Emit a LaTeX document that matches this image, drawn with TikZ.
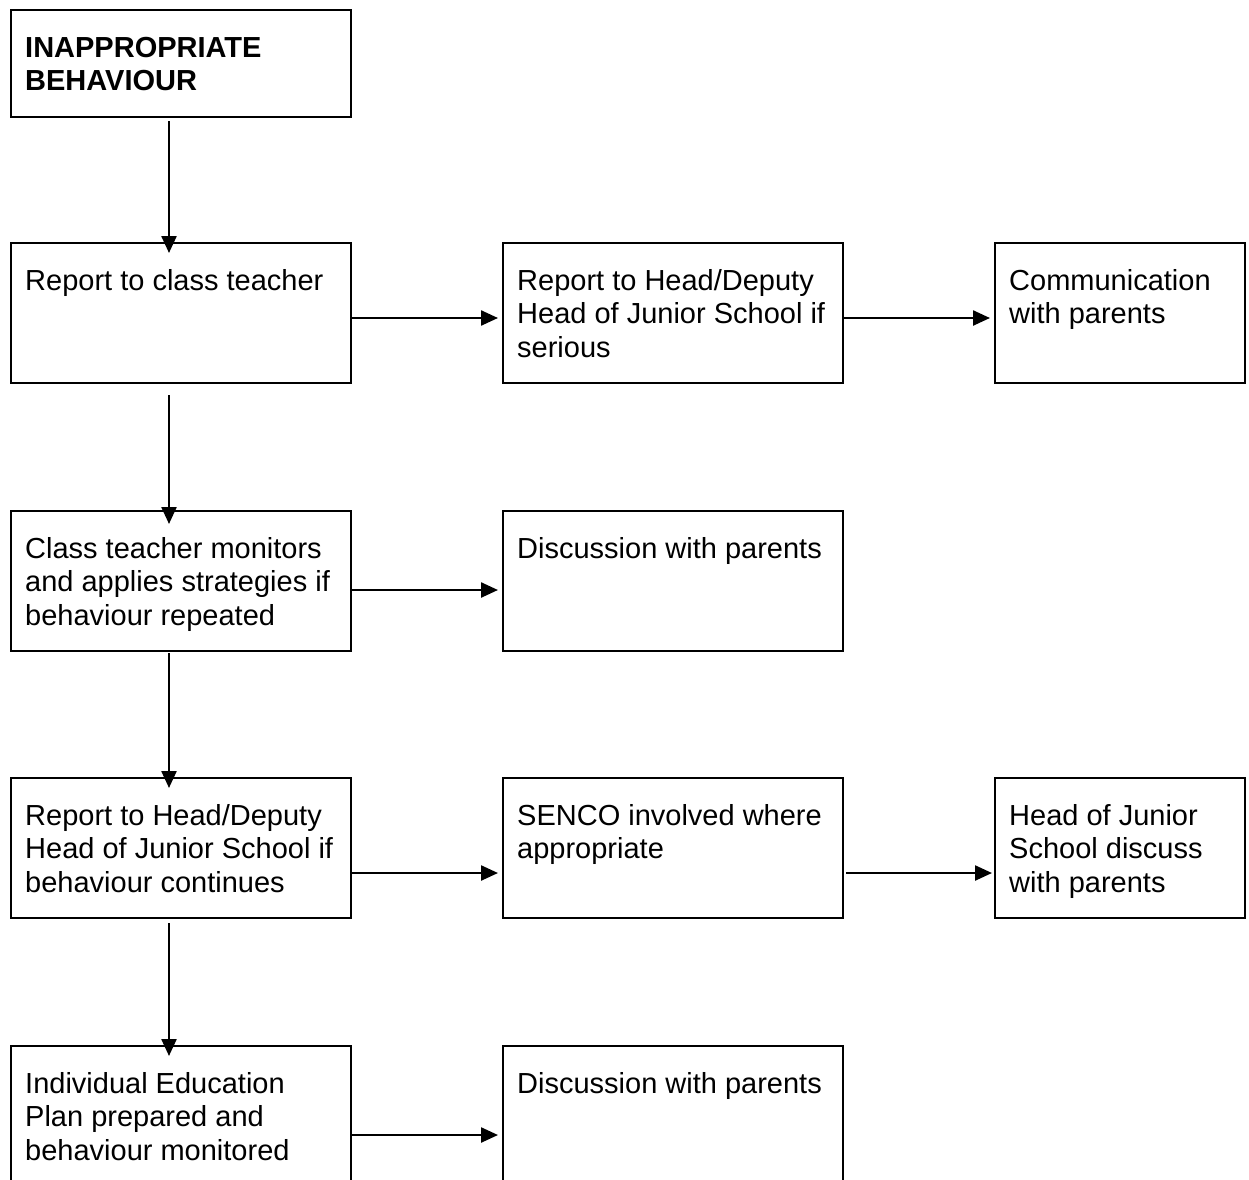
\documentclass[tikz,border=0pt]{standalone}
\usepackage{fontspec}
\setmainfont{Liberation Sans}
\usetikzlibrary{arrows.meta,calc}
\begin{document}
\begin{tikzpicture}[x=1bp,y=-1bp,
  box/.style={draw=black,line width=2.8bp,rectangle,inner sep=0pt,outer sep=0pt,anchor=north west},
  lbl/.style={anchor=base west,inner sep=0pt,font=\fontsize{29bp}{33.6bp}\selectfont},
  arr/.style={line width=2.4bp,-{Triangle[length=17bp,width=15bp]}}]
\useasboundingbox (0,0) rectangle (1249,1180);
\fill[white] (0,0) rectangle (1249,1180);
% boxes
\node[box,minimum width=340bp,minimum height=107bp] (b1) at (11,10) {};
\node[box,minimum width=340bp,minimum height=140bp] (b2) at (11,243) {};
\node[box,minimum width=340bp,minimum height=140bp] (b3) at (503,243) {};
\node[box,minimum width=250bp,minimum height=140bp] (b4) at (995,243) {};
\node[box,minimum width=340bp,minimum height=140bp] (b5) at (11,511) {};
\node[box,minimum width=340bp,minimum height=140bp] (b6) at (503,511) {};
\node[box,minimum width=340bp,minimum height=140bp] (b7) at (11,778) {};
\node[box,minimum width=340bp,minimum height=140bp] (b8) at (503,778) {};
\node[box,minimum width=250bp,minimum height=140bp] (b9) at (995,778) {};
\node[box,minimum width=340bp,minimum height=160bp] (b10) at (11,1046) {};
\node[box,minimum width=340bp,minimum height=160bp] (b11) at (503,1046) {};
% labels
\node[lbl] (t1) at ($(b1.north west)+(14,47)$) {\parbox[t]{320bp}{\bfseries INAPPROPRIATE\\BEHAVIOUR}};
\node[lbl] (t2) at ($(b2.north west)+(14,47)$) {\parbox[t]{320bp}{Report to class teacher}};
\node[lbl] (t3) at ($(b3.north west)+(14,47)$) {\parbox[t]{320bp}{Report to Head/Deputy\\Head of Junior School if\\serious}};
\node[lbl] (t4) at ($(b4.north west)+(14,47)$) {\parbox[t]{240bp}{Communication\\with parents}};
\node[lbl] (t5) at ($(b5.north west)+(14,47)$) {\parbox[t]{320bp}{Class teacher monitors\\and applies strategies if\\behaviour repeated}};
\node[lbl] (t6) at ($(b6.north west)+(14,47)$) {\parbox[t]{320bp}{Discussion with parents}};
\node[lbl] (t7) at ($(b7.north west)+(14,47)$) {\parbox[t]{320bp}{Report to Head/Deputy\\Head of Junior School if\\behaviour continues}};
\node[lbl] (t8) at ($(b8.north west)+(14,47)$) {\parbox[t]{320bp}{SENCO involved where\\appropriate}};
\node[lbl] (t9) at ($(b9.north west)+(14,47)$) {\parbox[t]{240bp}{Head of Junior\\School discuss\\with parents}};
\node[lbl] (t10) at ($(b10.north west)+(14,47)$) {\parbox[t]{320bp}{Individual Education\\Plan prepared and\\behaviour monitored}};
\node[lbl] (t11) at ($(b11.north west)+(14,47)$) {\parbox[t]{320bp}{Discussion with parents}};
% vertical arrows
\draw[arr] ($(b1.south west)+(158,4)$) -- ($(b2.north west)+(158,10)$);
\draw[arr] ($(b2.south west)+(158,12)$) -- ($(b5.north west)+(158,13)$);
\draw[arr] ($(b5.south west)+(158,2)$) -- ($(b7.north west)+(158,10)$);
\draw[arr] ($(b7.south west)+(158,5)$) -- ($(b10.north west)+(158,10)$);
% horizontal arrows
\draw[arr] ($(b2.north east)+(1,75)$) -- ($(b3.north west)+(-5,75)$);
\draw[arr] ($(b3.north east)+(1,75)$) -- ($(b4.north west)+(-5,75)$);
\draw[arr] ($(b5.north east)+(1,79)$) -- ($(b6.north west)+(-5,79)$);
\draw[arr] ($(b7.north east)+(1,95)$) -- ($(b8.north west)+(-5,95)$);
\draw[arr] ($(b8.north east)+(3,95)$) -- ($(b9.north west)+(-3,95)$);
\draw[arr] ($(b10.north east)+(1,89)$) -- ($(b11.north west)+(-5,89)$);
\end{tikzpicture}
\end{document}
